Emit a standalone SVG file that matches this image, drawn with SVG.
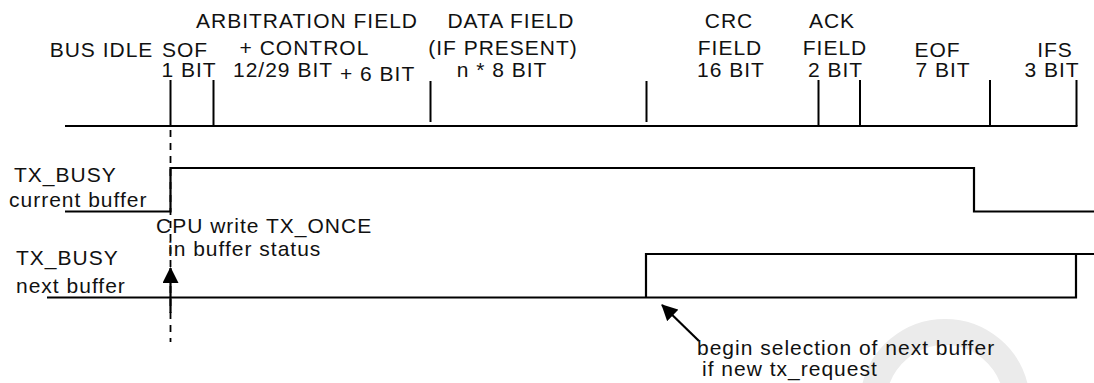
<svg xmlns="http://www.w3.org/2000/svg" width="1094" height="383" viewBox="0 0 1094 383">
  <style>
    text { font-family: "Liberation Sans", Arial, Helvetica, sans-serif; font-size: 21px; letter-spacing: 1px; fill: #111; }
    .m { text-anchor: middle; }
    .ln { stroke: #000; stroke-width: 2.2; fill: none; }
    .tick { stroke: #000; stroke-width: 2; }
    .dash { stroke: #000; stroke-width: 1.8; stroke-dasharray: 7 6; fill: none; }
    .wm { stroke: #ebebeb; stroke-width: 26; fill: none; }
  </style>
  <defs>
    <marker id="arr" viewBox="0 0 16 16" refX="15" refY="8" markerWidth="16" markerHeight="16" markerUnits="userSpaceOnUse" orient="auto">
      <path d="M0,0 L16,8 L0,16 z" fill="#000"/>
    </marker>
  </defs>
  <rect width="1094" height="383" fill="#fff"/>
  <path class="wm" d="M874 392 A72 72 0 0 1 1016 392"/>

  <g id="field-labels">
    <text class="m" x="307" y="28">ARBITRATION FIELD</text>
    <text class="m" x="511" y="28">DATA FIELD</text>
    <text class="m" x="729" y="28">CRC</text>
    <text class="m" x="832" y="28">ACK</text>
    <text class="m" x="101.5" y="57">BUS IDLE</text>
    <text class="m" x="185" y="57">SOF</text>
    <text class="m" x="304.5" y="55">+ CONTROL</text>
    <text class="m" x="503" y="55">(IF PRESENT)</text>
    <text class="m" x="730" y="55">FIELD</text>
    <text class="m" x="835" y="55">FIELD</text>
    <text class="m" x="937.5" y="57">EOF</text>
    <text class="m" x="1055" y="57">IFS</text>
    <text class="m" x="189" y="77">1 BIT</text>
    <text x="233" y="77">12/29 BIT</text>
    <text x="340" y="81">+ 6 BIT</text>
    <text class="m" x="502" y="77">n * 8 BIT</text>
    <text class="m" x="731" y="77">16 BIT</text>
    <text class="m" x="835.5" y="77">2 BIT</text>
    <text class="m" x="943" y="77">7 BIT</text>
    <text class="m" x="1052" y="77">3 BIT</text>
  </g>

  <g id="timeline">
    <line class="ln" x1="65" y1="126" x2="1077.5" y2="126"/>
    <line class="tick" x1="170.5" y1="80" x2="170.5" y2="126"/>
    <line class="tick" x1="213.5" y1="80" x2="213.5" y2="126"/>
    <line class="tick" x1="430.5" y1="81" x2="430.5" y2="122"/>
    <line class="tick" x1="646.5" y1="81" x2="646.5" y2="122"/>
    <line class="tick" x1="818.5" y1="80" x2="818.5" y2="126"/>
    <line class="tick" x1="860" y1="80" x2="860" y2="126"/>
    <line class="tick" x1="990" y1="80" x2="990" y2="126"/>
    <line class="tick" x1="1076.5" y1="80" x2="1076.5" y2="126"/>
  </g>

  <g id="tx-busy-current">
    <text x="14" y="181.5">TX_BUSY</text>
    <text x="9" y="206.5">current buffer</text>
    <path class="ln" d="M65 211.5 H170.5 V168 H974 V211.5 H1094"/>
  </g>

  <g id="tx-busy-next">
    <text x="16" y="265">TX_BUSY</text>
    <text x="16" y="293">next buffer</text>
    <path class="ln" d="M47 297.5 H1076 V254 M646 297.5 V254 H1094"/>
  </g>

  <g id="connectors">
    <line class="dash" x1="170.5" y1="130" x2="170.5" y2="342"/>
    <line class="ln" x1="170.5" y1="313" x2="170.5" y2="268" marker-end="url(#arr)"/>
    <line class="ln" x1="699" y1="341" x2="662" y2="305" marker-end="url(#arr)"/>
  </g>

  <g id="cpu-note">
    <text x="156" y="233">CPU write TX_ONCE</text>
    <text x="168" y="256">in buffer status</text>
  </g>

  <g id="select-note">
    <text x="697" y="355">begin selection of next buffer</text>
    <text x="702" y="376">if new tx_request</text>
  </g>
</svg>
